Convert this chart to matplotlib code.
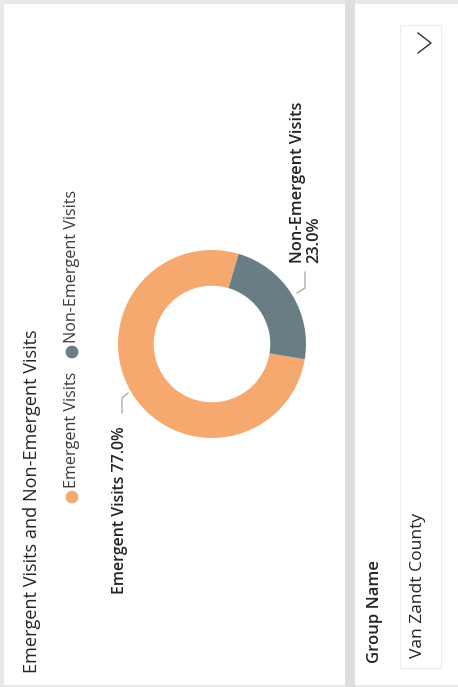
import numpy as np
import matplotlib
matplotlib.use('Agg')
import matplotlib.pyplot as plt
from matplotlib.patches import Rectangle

# data
categories = ['Emergent Visits', 'Non-Emergent Visits']
shares = [77.0, 23.0]
colors = ['#F5A96F', '#687D84']
title = 'Emergent Visits and Non-Emergent Visits'
slicer_title = 'Group Name'
slicer_value = 'Van Zandt County'

plt.rcParams['font.family'] = ['Open Sans', 'DejaVu Sans']

W, H = 458, 687
fig = plt.figure(figsize=(W / 100, H / 100), dpi=100)
fig.patch.set_facecolor('#e8e8e8')
renderer = fig.canvas.get_renderer()


def fit(txt, length):
    # scale font so the rotated text spans `length` pixels
    for _ in range(3):
        h = txt.get_window_extent(renderer).height
        txt.set_fontsize(txt.get_fontsize() * length / h)


# background axis in pixel coords (y down)
bg = fig.add_axes([0, 0, 1, 1])
bg.set_xlim(0, W)
bg.set_ylim(H, 0)
bg.axis('off')

# cards
bg.add_patch(Rectangle((4, 4), 341, 681, facecolor='white', edgecolor='none'))
bg.add_patch(Rectangle((355, 4), 110, 681, facecolor='white', edgecolor='none'))
bg.add_patch(Rectangle((345, 0), 10, H, facecolor='#dedede', edgecolor='none'))
bg.add_patch(Rectangle((400, 25), 41, 643, facecolor='none', edgecolor='#ececec', lw=0.8))

# title (whole visual is rotated 90 deg)
t = bg.text(32, 673, title, rotation=90, ha='center', va='bottom',
            fontsize=12, color='#252423')
fit(t, 343)

# legend
leg_y = [497, 352]
leg_len = [116, 153]
for c, lab, y, n in zip(colors, categories, leg_y, leg_len):
    bg.scatter([72], [y], s=85, color=c, edgecolors='none')
    t = bg.text(72, y - 9, lab, rotation=90, ha='center', va='bottom',
                fontsize=10.5, color='#3b3a39')
    fit(t, n)

# donut
cx, cy, r = 212, 344, 94
pax = fig.add_axes([(cx - r) / W, 1 - (cy + r) / H, 2 * r / W, 2 * r / H])
pax.pie(shares, colors=colors, startangle=73.5, counterclock=True,
        wedgeprops=dict(width=0.38, linewidth=0))
pax.set_xlim(-1, 1)
pax.set_ylim(-1, 1)
pax.axis('off')

# data labels with leader lines
t = bg.text(120, 594, '{} {:.1f}%'.format(categories[0], shares[0]), rotation=90,
            ha='center', va='bottom', fontsize=10.5, fontweight='semibold',
            color='#252423')
fit(t, 168)
bg.plot([122, 122, 128], [413, 398, 393], color='#9a9a9a', lw=0.8)

t = bg.text(306, 263, '{}\n{:.1f}%'.format(categories[1], shares[1]), rotation=90,
            ha='center', va='bottom', fontsize=10.5, fontweight='semibold',
            color='#252423', multialignment='left', linespacing=1.0)
fit(t, 161)
bg.plot([305, 305, 297], [272, 288, 293], color='#9a9a9a', lw=0.8)

# slicer
t = bg.text(375, 663, slicer_title, rotation=90, ha='center', va='bottom',
            fontsize=11, fontweight='semibold', color='#252423')
fit(t, 103)
t = bg.text(418, 658, slicer_value, rotation=90, ha='center', va='bottom',
            fontsize=11, color='#252423')
fit(t, 145)
bg.plot([418, 431, 418], [33, 43, 53], color='#333333', lw=1.0)

fig.savefig('out.png', dpi=100, facecolor=fig.get_facecolor())
